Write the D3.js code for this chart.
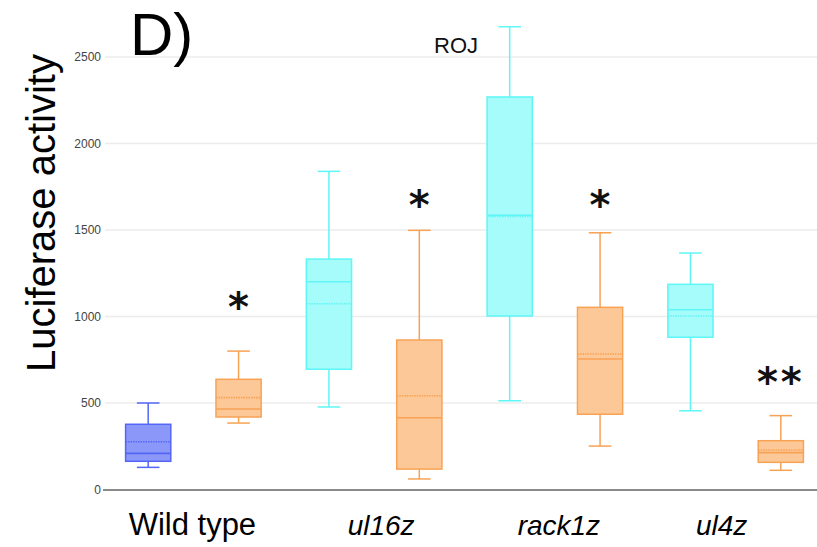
<!DOCTYPE html>
<html>
<head>
<meta charset="utf-8">
<script src="https://cdn.jsdelivr.net/npm/d3@7"></script>
<style>
  html, body { margin: 0; padding: 0; background: #fff; }
  svg { display: block; }
</style>
</head>
<body>
<svg id="chart" width="817" height="547"></svg>
<script>
// Strains along the x axis (each has a control box and a treated box)
const categories = ["Wild type", "ul16z", "rack1z", "ul4z"];
const italicCategory = [false, true, true, true];

// One entry per box, in drawing order
const boxGroup   = ["Wild type", "Wild type", "ul16z", "ul16z", "rack1z", "rack1z", "ul4z", "ul4z"];
const boxKind    = ["wt", "treated", "mutant", "treated", "mutant", "treated", "mutant", "treated"];
const whiskerLow = [128, 384, 477,   61,  513, 251, 455, 111];
const q1Values   = [163, 419, 695,  118, 1003, 435, 880, 157];
const medians    = [209, 465, 1201, 415, 1585, 754, 1039, 213];
const means      = [276, 531, 1074, 542, 1578, 783, 1003, 228];
const q3Values   = [377, 637, 1332, 864, 2269, 1053, 1186, 282];
const whiskerHigh= [500, 800, 1839, 1498, 2675, 1484, 1367, 427];

// Significance marks above the treated boxes
const markBox    = [1, 3, 5, 7];
const markText   = ["*", "*", "*", "**"];
const markLevel  = [1072, 1662, 1662, 639];

const yTicks = [0, 500, 1000, 1500, 2000, 2500];

const palette = {
  wt:      { fill: "#8b98fa", stroke: "#5566f6" },
  mutant:  { fill: "#a6fcfa", stroke: "#5ef6f6" },
  treated: { fill: "#fdc898", stroke: "#f8a254" }
};

const svg = d3.select("#chart");
const W = 817, H = 547;
const left = 103, right = 826, y0px = 489.5, yTopPx = 57;

const boxes = boxGroup.map((g, i) => ({
  i, group: g, kind: boxKind[i],
  lo: whiskerLow[i], q1: q1Values[i], med: medians[i], mean: means[i],
  q3: q3Values[i], hi: whiskerHigh[i]
}));

const x = d3.scaleBand().domain(d3.range(boxes.length)).range([left, right]).paddingInner(0.5).paddingOuter(0.25);
const y = d3.scaleLinear().domain([0, 2500]).range([y0px, yTopPx]);

// grid lines
svg.append("g").selectAll("line").data(yTicks.filter(t => t > 0)).join("line")
  .attr("x1", left + 2).attr("x2", W)
  .attr("y1", d => y(d)).attr("y2", d => y(d))
  .attr("stroke", "#ececec").attr("stroke-width", 1.5);

// y axis tick labels
const yAxis = d3.axisLeft(y).tickValues(yTicks).tickFormat(d3.format("d")).tickSize(0).tickPadding(2);
const gy = svg.append("g").attr("transform", `translate(${left},0)`).call(yAxis);
gy.select(".domain").remove();
gy.selectAll("text").attr("font-family", "Liberation Sans, Arial, sans-serif")
  .attr("font-size", 12).attr("fill", "#444");

// baseline
svg.append("line").attr("x1", left).attr("x2", W).attr("y1", y(0) + 0.5).attr("y2", y(0) + 0.5)
  .attr("stroke", "#8a8a8a").attr("stroke-width", 2);

// boxes
const bw = x.bandwidth();
const gb = svg.append("g").selectAll("g").data(boxes).join("g")
  .attr("transform", d => `translate(${x(d.i)},0)`);

gb.append("line")
  .attr("x1", bw / 2).attr("x2", bw / 2)
  .attr("y1", d => y(d.hi)).attr("y2", d => y(d.q3))
  .attr("stroke", d => palette[d.kind].stroke).attr("stroke-width", 1.5);
gb.append("line")
  .attr("x1", bw / 2).attr("x2", bw / 2)
  .attr("y1", d => y(d.q1)).attr("y2", d => y(d.lo))
  .attr("stroke", d => palette[d.kind].stroke).attr("stroke-width", 1.5);
gb.append("line").attr("x1", bw / 4).attr("x2", bw * 3 / 4)
  .attr("y1", d => y(d.hi)).attr("y2", d => y(d.hi))
  .attr("stroke", d => palette[d.kind].stroke).attr("stroke-width", 1.5);
gb.append("line").attr("x1", bw / 4).attr("x2", bw * 3 / 4)
  .attr("y1", d => y(d.lo)).attr("y2", d => y(d.lo))
  .attr("stroke", d => palette[d.kind].stroke).attr("stroke-width", 1.5);

gb.append("rect")
  .attr("x", 0).attr("width", bw)
  .attr("y", d => y(d.q3)).attr("height", d => y(d.q1) - y(d.q3))
  .attr("fill", d => palette[d.kind].fill)
  .attr("stroke", d => palette[d.kind].stroke).attr("stroke-width", 1.5);

// median (solid) and mean (dotted)
gb.append("line").attr("x1", 0).attr("x2", bw)
  .attr("y1", d => y(d.med)).attr("y2", d => y(d.med))
  .attr("stroke", d => palette[d.kind].stroke).attr("stroke-width", 1.6);
gb.append("line").attr("x1", 0).attr("x2", bw)
  .attr("y1", d => y(d.mean)).attr("y2", d => y(d.mean))
  .attr("stroke", d => palette[d.kind].stroke).attr("stroke-width", 1.6)
  .attr("stroke-dasharray", "1.5,1");

// significance asterisks
svg.append("g").selectAll("text").data(markBox).join("text")
  .attr("x", (b) => x(b) + bw / 2)
  .attr("y", (b, k) => y(markLevel[k]) + 17)
  .attr("text-anchor", "middle")
  .attr("font-family", "DejaVu Sans, sans-serif").attr("font-weight", "bold")
  .attr("font-size", 40).attr("fill", "#111")
  .attr("letter-spacing", (b, k) => markText[k].length > 1 ? 3 : 0)
  .text((b, k) => markText[k]);

// strain labels under each pair of boxes (small hand nudges for spacing)
const labelNudge = [-1, 7, 4, -14];
svg.append("g").selectAll("text").data(categories).join("text")
  .attr("x", (c, k) => {
    const idx = boxGroup.map((g, i) => g === c ? i : -1).filter(i => i >= 0);
    return d3.mean(idx, i => x(i) + bw / 2) + labelNudge[k];
  })
  .attr("y", 535)
  .attr("text-anchor", "middle")
  .attr("font-family", "Liberation Sans, Arial, sans-serif")
  .attr("font-size", (c, k) => italicCategory[k] ? 28 : 31)
  .attr("font-style", (c, k) => italicCategory[k] ? "italic" : "normal")
  .attr("fill", "#000")
  .text(c => c);

// y axis title
svg.append("text")
  .attr("transform", "translate(55,213) rotate(-90)")
  .attr("text-anchor", "middle")
  .attr("font-family", "Liberation Sans, Arial, sans-serif")
  .attr("font-size", 40).attr("fill", "#000")
  .text("Luciferase activity");

// panel letter
svg.append("text").attr("x", 130).attr("y", 55)
  .attr("font-family", "Liberation Sans, Arial, sans-serif")
  .attr("font-size", 60).attr("fill", "#000")
  .text("D)");

// cell line note
svg.append("text").attr("x", 434).attr("y", 53)
  .attr("font-family", "Liberation Sans, Arial, sans-serif")
  .attr("font-size", 22).attr("fill", "#111")
  .text("ROJ");
</script>
</body>
</html>
